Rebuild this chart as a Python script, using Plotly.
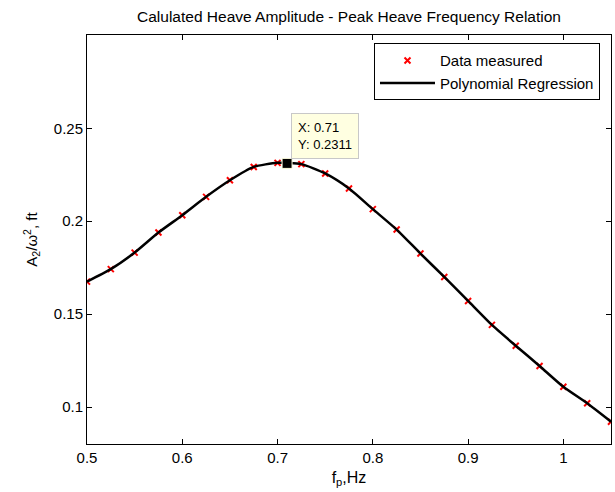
import plotly.graph_objects as go

freq = [0.5, 0.525, 0.55, 0.575, 0.6, 0.625, 0.65, 0.675, 0.7, 0.725, 0.75, 0.775,
        0.8, 0.825, 0.85, 0.875, 0.9, 0.925, 0.95, 0.975, 1.0, 1.025, 1.05]
amp = [0.1675, 0.1742, 0.1831, 0.1939, 0.2032, 0.2131, 0.2220, 0.2292, 0.2314, 0.2307,
       0.2257, 0.2176, 0.2065, 0.1955, 0.1826, 0.1700, 0.1571, 0.1442, 0.1330, 0.1221,
       0.1109, 0.1020, 0.0921]
tip_x = [0.71]
tip_y = [0.2311]
x_ticks = [0.5, 0.6, 0.7, 0.8, 0.9, 1.0]
x_tick_labels = ["0.5", "0.6", "0.7", "0.8", "0.9", "1"]
y_ticks = [0.1, 0.15, 0.2, 0.25]
y_tick_labels = ["0.1", "0.15", "0.2", "0.25"]

FONT = "Liberation Sans, Arial, sans-serif"

fig = go.Figure()
fig.add_trace(go.Scatter(
    x=freq, y=amp, mode="markers", name="Data measured",
    marker=dict(symbol="x-thin", size=6, color="red", line=dict(color="red", width=2)),
))
fig.add_trace(go.Scatter(
    x=freq, y=amp, mode="lines", name="Polynomial Regression",
    line=dict(color="black", width=2.5, shape="spline", smoothing=0.6),
))
fig.add_trace(go.Scatter(
    x=tip_x, y=tip_y, mode="markers", showlegend=False,
    marker=dict(symbol="square", size=10, color="black", line=dict(color="#ffffe0", width=1)),
))

fig.add_annotation(
    x=tip_x[0], y=tip_y[0], xref="x", yref="y",
    text=f"X: {tip_x[0]}<br>Y: {tip_y[0]}", showarrow=False,
    xanchor="left", yanchor="bottom", xshift=4, yshift=4, align="left",
    bgcolor="#ffffe1", bordercolor="#c8c8c8", borderwidth=1, borderpad=6,
    font=dict(family=FONT, size=13, color="black"),
)

fig.update_layout(
    width=615, height=492,
    margin=dict(l=87, r=4, t=35, b=48),
    paper_bgcolor="white", plot_bgcolor="white",
    font=dict(family=FONT, size=15, color="black"),
    title=dict(text="Calulated Heave Amplitude - Peak Heave Frequency Relation",
               x=(87 + 611) / 2 / 615, xanchor="center", y=1 - 17 / 492, yanchor="middle",
               font=dict(family=FONT, size=15.5, color="black")),
    legend=dict(x=0.979, y=0.98, xanchor="right", yanchor="top",
                bordercolor="black", borderwidth=1, bgcolor="white",
                font=dict(family=FONT, size=15), itemwidth=55,
                tracegroupgap=0),
    showlegend=True,
)
fig.update_xaxes(
    range=[0.5, 1.05], tickvals=x_ticks, ticktext=x_tick_labels,
    showline=True, linecolor="black", linewidth=1, mirror="ticks",
    ticks="inside", ticklen=5, tickcolor="black", showgrid=False, zeroline=False,
    tickfont=dict(family=FONT, size=15),
    title=dict(text="f<sub>p</sub>,Hz", standoff=6, font=dict(family=FONT, size=16)),
)
fig.update_yaxes(
    range=[0.0801, 0.3002], tickvals=y_ticks, ticktext=y_tick_labels,
    showline=True, linecolor="black", linewidth=1, mirror="ticks",
    ticks="inside", ticklen=5, tickcolor="black", showgrid=False, zeroline=False,
    tickfont=dict(family=FONT, size=15),
    title=dict(text="A<sub>2</sub>/ω<sup>2</sup>, ft", standoff=12, font=dict(family=FONT, size=15)),
)

fig.write_html("out.html")
